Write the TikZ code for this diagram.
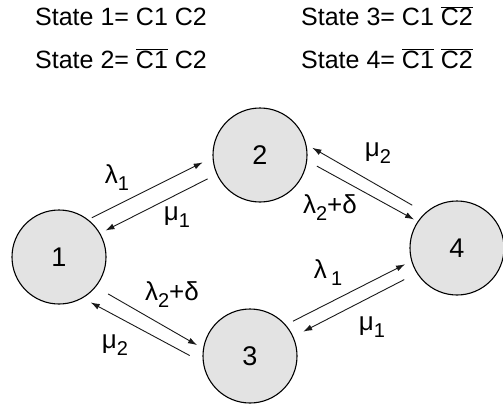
\documentclass[tikz,border=0pt]{standalone}
\usepackage{fontspec}
\setmainfont{Liberation Sans}
\usetikzlibrary{arrows.meta}
\newcommand\lowsub[1]{\raisebox{-7pt}{\fontsize{20}{20}\selectfont #1}}
\newcommand\negC[1]{$\overline{\mbox{C#1}}$}

\begin{document}
\begin{tikzpicture}[x=1pt, y=-1pt,
  state/.style = {shape=circle, draw, line width=1.1pt,
    fill=black!11, minimum size=94pt, inner sep=0pt,
    font=\fontsize{27}{27}\selectfont},
  header/.style = {anchor=base west, inner sep=0pt,
    font=\fontsize{25}{25}\selectfont},
  rate/.style = {inner sep=0pt, font=\fontsize{26}{26}\selectfont},
  flow/.style = {-{Latex[length=9pt,width=6pt]}, line width=0.9pt,
    draw=black!90}]
    \useasboundingbox (0,0) rectangle (503,412);
    % legend
    \node[header] (s1) at (35,26) {State 1= C1 C2};
    \node[header] (s2) at (35,68) {State 2= \negC{1} C2};
    \node[header] (s3) at (301,26) {State 3= C1 \negC{2}};
    \node[header] (s4) at (301,68) {State 4= \negC{1} \negC{2}};
    % states
    \node[state] (n1) at (59,257) {1};
    \node[state] (n2) at (260,155) {2};
    \node[state] (n3) at (250,356) {3};
    \node[state] (n4) at (457,248) {4};
    % transitions
    \draw[flow, shorten <=4pt, shorten >=11pt] (n1.52) -- (n2.183);
    \draw[flow, shorten <=10pt, shorten >=6pt] (n2.204) -- (n1.30);
    \draw[flow, shorten <=14pt, shorten >=7pt] (n1.321) -- (n3.171);
    \draw[flow, shorten <=15pt, shorten >=9pt] (n3.188) -- (n1.300);
    \draw[flow, shorten <=11pt, shorten >=4pt] (n2.353) -- (n4.146);
    \draw[flow, shorten <=15pt, shorten >=7pt] (n4.132) -- (n2.13);
    \draw[flow, shorten <=8pt, shorten >=7pt] (n3.41) -- (n4.196);
    \draw[flow, shorten <=14pt, shorten >=11pt] (n4.212) -- (n3.24);
    % rates
    \node[rate] (r12) at (117,178) {λ\lowsub{1}};
    \node[rate] (r21) at (177,217) {μ\lowsub{1}};
    \node[rate] (r13) at (172,295) {λ\lowsub{2}+δ};
    \node[rate] (r31) at (115,345) {μ\lowsub{2}};
    \node[rate] (r42) at (378,153) {μ\lowsub{2}};
    \node[rate] (r24) at (330,208) {λ\lowsub{2}+δ};
    \node[rate] (r34) at (328,273) {λ\,\lowsub{1}};
    \node[rate] (r43) at (372,327) {μ\lowsub{1}};
\end{tikzpicture}
\end{document}
